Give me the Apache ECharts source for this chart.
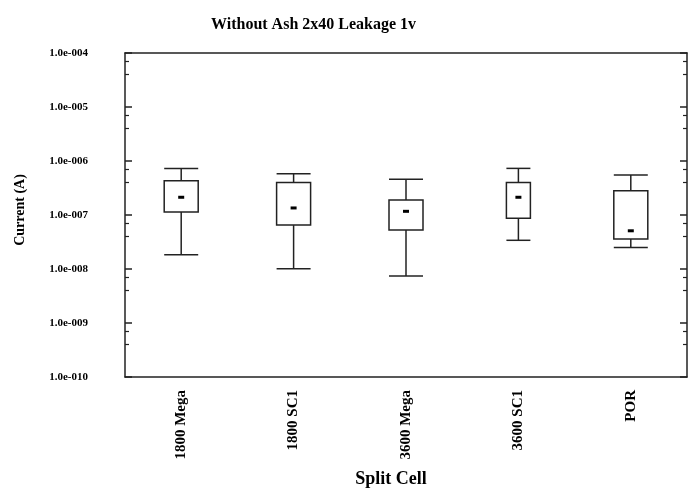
<!DOCTYPE html>
<html lang="en">

<head>
    <meta charset="UTF-8">
    <title>Without Ash 2x40 Leakage 1v</title>
    <script src="https://cdn.jsdelivr.net/npm/echarts@6/dist/echarts.min.js"></script>
    <style>
        * {
            padding: 0;
            margin: 0;
        }

        #chart {
            width: 688px;
            height: 489px;
            background: #fff;
        }
    </style>
</head>

<body>
    <div id="chart"></div>
</body>
<script>
    // data
    var categories = ['1800 Mega', '1800 SC1', '3600 Mega', '3600 SC1', 'POR'];
    var whiskerLow = [1.84e-8, 1.01e-8, 7.4e-9, 3.4e-8, 2.5e-8];
    var boxLow = [1.14e-7, 6.5e-8, 5.3e-8, 8.7e-8, 3.6e-8];
    var middle = [2.13e-7, 1.35e-7, 1.17e-7, 2.13e-7, 5.1e-8];
    var boxHigh = [4.3e-7, 4.0e-7, 1.9e-7, 4.0e-7, 2.8e-7];
    var whiskerHigh = [7.3e-7, 5.8e-7, 4.6e-7, 7.3e-7, 5.5e-7];

    // style
    var FONT = "'Liberation Serif', 'DejaVu Serif', serif";
    var INK = '#222';
    var boxWidth = [34, 34, 34, 24, 34];

    var chart = echarts.init(document.getElementById('chart'));

    var rows = categories.map(function (c, i) {
        return [i, whiskerLow[i], boxLow[i], middle[i], boxHigh[i], whiskerHigh[i]];
    });

    // 1.0e-004 style
    function sci(v) {
        var e = Math.round(Math.log10(v));
        var s = String(Math.abs(e));
        while (s.length < 3) s = '0' + s;
        return '1.0e' + (e < 0 ? '-' : '+') + s;
    }

    function renderBox(params, api) {
        var i = api.value(0);
        var lo = api.coord([i, api.value(1)]);
        var q1 = api.coord([i, api.value(2)]);
        var md = api.coord([i, api.value(3)]);
        var q3 = api.coord([i, api.value(4)]);
        var hi = api.coord([i, api.value(5)]);
        var x = lo[0];
        var hw = boxWidth[i] / 2;
        var line = { stroke: INK, lineWidth: 1.5, fill: null };
        return {
            type: 'group',
            children: [
                { type: 'line', shape: { x1: x, y1: lo[1], x2: x, y2: q1[1] }, style: line },
                { type: 'line', shape: { x1: x, y1: q3[1], x2: x, y2: hi[1] }, style: line },
                { type: 'line', shape: { x1: x - hw, y1: lo[1], x2: x + hw, y2: lo[1] }, style: line },
                { type: 'line', shape: { x1: x - hw, y1: hi[1], x2: x + hw, y2: hi[1] }, style: line },
                { type: 'rect', shape: { x: x - hw, y: q3[1], width: hw * 2, height: q1[1] - q3[1] }, style: { stroke: INK, lineWidth: 1.5, fill: '#fff' } },
                { type: 'rect', shape: { x: x - 3, y: md[1] - 1.5, width: 6, height: 3 }, style: { fill: '#000' } }
            ]
        };
    }

    var catAxis = {
        type: 'category',
        data: categories,
        boundaryGap: true,
        axisLine: { lineStyle: { color: INK, width: 1.5 } },
        axisTick: { inside: true, alignWithLabel: true, length: 6, lineStyle: { color: INK, width: 1.5 } },
        splitLine: { show: false }
    };

    var logAxis = {
        type: 'log',
        logBase: 10,
        min: 1e-10,
        max: 1e-4,
        interval: 1,
        axisLine: { show: true, lineStyle: { color: INK, width: 1.5 } },
        axisTick: { show: true, inside: true, length: 7, lineStyle: { color: INK, width: 1.5 } },
        minorTick: { show: true, splitNumber: 3, length: 4, lineStyle: { color: INK, width: 1.2 } },
        splitLine: { show: false }
    };

    var option = {
        animation: false,
        backgroundColor: '#fff',
        title: {
            text: 'Without Ash 2x40 Leakage 1v',
            left: 206,
            top: 12,
            textStyle: { fontFamily: FONT, fontWeight: 'bold', fontSize: 16, color: '#000' }
        },
        grid: { left: 125, right: 1, top: 53, bottom: 112, outerBoundsMode: 'none', containLabel: false },
        xAxis: [
            Object.assign({}, catAxis, {
                position: 'bottom',
                name: 'Split Cell',
                nameLocation: 'middle',
                nameGap: 93,
                nameTextStyle: { fontFamily: FONT, fontWeight: 'bold', fontSize: 18, color: '#000', padding: [0, 30, 0, 0] },
                axisLabel: { rotate: 90, margin: 13, fontFamily: FONT, fontWeight: 'bold', fontSize: 15, color: '#000' }
            }),
            Object.assign({}, catAxis, { position: 'top', axisLabel: { show: false } })
        ],
        yAxis: [
            Object.assign({}, logAxis, {
                position: 'left',
                name: 'Current (A)',
                nameLocation: 'middle',
                nameGap: 98,
                nameTextStyle: { fontFamily: FONT, fontWeight: 'bold', fontSize: 14, color: '#000', padding: [0, 0, 0, 10] },
                axisLabel: {
                    margin: 37,
                    fontFamily: FONT, fontWeight: 'bold', fontSize: 11, color: '#000',
                    formatter: sci
                }
            }),
            Object.assign({}, logAxis, { position: 'right', axisLabel: { show: false } })
        ],
        series: [{
            type: 'custom',
            renderItem: renderBox,
            data: rows,
            encode: { x: 0, y: [1, 2, 3, 4, 5] },
            xAxisIndex: 0,
            yAxisIndex: 0
        }]
    };

    chart.setOption(option);
</script>

</html>
